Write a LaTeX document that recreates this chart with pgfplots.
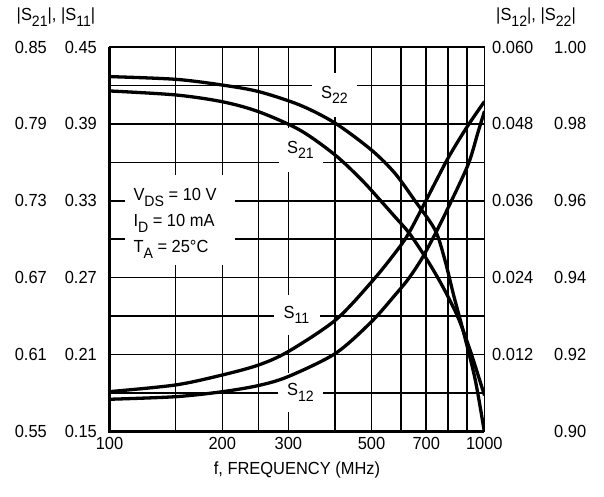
\documentclass[border=0pt]{standalone}
\usepackage{fontspec}
\setmainfont{Liberation Sans}[FakeStretch=0.94]
\usepackage{pgfplots}
\usepackage{pgfplotstable}
\pgfplotsset{compat=1.18}
\newcommand{\fs}{\fontsize{17.5}{21}\selectfont}
\newcommand{\sbs}[1]{\raisebox{-5.6pt}{\fontsize{15}{16}\selectfont #1}}

\pgfplotstableread{
f v
100 0.8157
150 0.8126
200 0.8073
250 0.7995
322 0.7852
400 0.7657
471 0.7462
527 0.7306
578 0.7174
627 0.7057
680 0.6907
731 0.6760
786 0.6596
852 0.6386
916 0.6136
1000 0.5785
}\tabSxxi

\pgfplotstableread{
f v
100 0.9923
150 0.9916
200 0.9901
250 0.9884
322 0.9849
400 0.9802
500 0.9732
577 0.9672
651 0.9602
739 0.9524
785 0.9446
830 0.9351
882 0.9255
946 0.9134
1000 0.9000
}\tabSxxii

\pgfplotstableread{
f v
100 0.1811
150 0.1863
200 0.1941
250 0.2019
300 0.2124
401 0.2370
500 0.2666
578 0.2893
627 0.3041
700 0.3306
800 0.3632
900 0.3878
1000 0.4073
}\tabSxi

\pgfplotstableread{
f v
100 0.00503
150 0.00543
200 0.00621
250 0.00718
300 0.00858
401 0.01220
500 0.01713
578 0.02130
627 0.02380
680 0.02690
739 0.03080
805 0.03520
906 0.04170
962 0.04670
1000 0.04990
}\tabSxii

\begin{document}
\begin{tikzpicture}
% grid, frame, x labels, S21 scale
\begin{axis}[scale only axis, width=374.8pt, height=384.5pt,
  xmode=log, xmin=100, xmax=1000, ymin=0.55, ymax=0.85,
  scaled y ticks=false,
  major tick length=0pt, minor tick length=0pt,
  tick label style={font=\fs},
  xtick={100,200,300,500,700,1000},
  xticklabels={100,200,300,500,700,1000},
  minor xtick={150,250,400,600,800,900},
  ytick={0.55,0.61,0.67,0.73,0.79,0.85},
  yticklabels={0.55,0.61,0.67,0.73,0.79,0.85},
  minor ytick={0.58,0.64,0.70,0.76,0.82},
  grid=both,
  major grid style={black, line width=1.6pt},
  minor grid style={black, line width=1.6pt},
  axis line style={black, line width=1.6pt},
  yticklabel style={anchor=east, inner sep=0pt, xshift=-62.5pt},
  xticklabel style={anchor=north, inner sep=0pt, yshift=-6pt},
]
\end{axis}
\draw[line width=2.8pt] (0pt,384.5pt) -- (0pt,0pt) -- (374.8pt,0pt);

% white gaps in grid + labels
\node[fill=white, inner sep=0pt, minimum width=110pt, minimum height=90pt] at (70.5pt,211.5pt) {};
\node[font=\fs, anchor=base west, inner sep=0pt] at (23.8pt,230.5pt) {V\sbs{DS} = 10 V};
\node[font=\fs, anchor=base west, inner sep=0pt] at (23.8pt,204.5pt) {I\sbs{D} = 10 mA};
\node[font=\fs, anchor=base west, inner sep=0pt] at (23.8pt,178.5pt) {T\sbs{A} = 25°C};
\node[font=\fs, fill=white, inner sep=0pt, minimum width=45pt, minimum height=44pt] at (225pt,336.5pt) {S\sbs{22}};
\node[font=\fs, fill=white, inner sep=0pt, minimum width=44pt, minimum height=44pt] at (191pt,281.5pt) {S\sbs{21}};
\node[font=\fs, fill=white, inner sep=0pt, minimum width=46pt, minimum height=40pt] at (187pt,116.5pt) {S\sbs{11}};
\node[font=\fs, fill=white, inner sep=0pt, minimum width=45pt, minimum height=39pt] at (191pt,39pt) {S\sbs{12}};

% axis titles
\node[font=\fs] at (-53.5pt,414.5pt) {|S\sbs{21}|, |S\sbs{11}|};
\node[font=\fs] at (426.5pt,414.5pt) {|S\sbs{12}|, |S\sbs{22}|};
\node[font=\fs] at (187.5pt,-38.5pt) {f, FREQUENCY (MHz)};

% S21
\begin{axis}[scale only axis, width=374.8pt, height=384.5pt,
  xmode=log, xmin=100, xmax=1000, ymin=0.55, ymax=0.85, hide axis]
\addplot[black, line width=3.3pt, line cap=round, smooth, tension=0.5] table[x=f, y=v] {\tabSxxi};
\end{axis}
% S11
\begin{axis}[scale only axis, width=374.8pt, height=384.5pt,
  xmode=log, xmin=100, xmax=1000, ymin=0.15, ymax=0.45,
  scaled y ticks=false,
  hide x axis, axis line style={draw=none},
  major tick length=0pt, minor tick length=0pt,
  tick label style={font=\fs},
  ytick={0.15,0.21,0.27,0.33,0.39,0.45},
  yticklabels={0.15,0.21,0.27,0.33,0.39,0.45},
  yticklabel style={anchor=east, inner sep=0pt, xshift=-12.5pt}]
\addplot[black, line width=3.3pt, line cap=round, smooth, tension=0.5] table[x=f, y=v] {\tabSxi};
\end{axis}
% S12
\begin{axis}[scale only axis, width=374.8pt, height=384.5pt,
  xmode=log, xmin=100, xmax=1000, ymin=0, ymax=0.06,
  scaled y ticks=false,
  hide x axis, axis line style={draw=none},
  major tick length=0pt, minor tick length=0pt,
  tick label style={font=\fs},
  ytick={0.012,0.024,0.036,0.048,0.060},
  yticklabels={0.012,0.024,0.036,0.048,0.060},
  yticklabel pos=right,
  yticklabel style={anchor=west, inner sep=0pt, xshift=7.7pt}]
\addplot[black, line width=3.3pt, line cap=round, smooth, tension=0.5] table[x=f, y=v] {\tabSxii};
\end{axis}
% S22
\begin{axis}[scale only axis, width=374.8pt, height=384.5pt,
  xmode=log, xmin=100, xmax=1000, ymin=0.90, ymax=1.00,
  scaled y ticks=false,
  hide x axis, axis line style={draw=none},
  major tick length=0pt, minor tick length=0pt,
  tick label style={font=\fs},
  ytick={0.90,0.92,0.94,0.96,0.98,1.00},
  yticklabels={0.90,0.92,0.94,0.96,0.98,1.00},
  yticklabel pos=right,
  yticklabel style={anchor=west, inner sep=0pt, xshift=69.7pt}]
\addplot[black, line width=3.3pt, line cap=round, smooth, tension=0.5] table[x=f, y=v] {\tabSxxii};
\end{axis}

\pgfresetboundingbox
\path[use as bounding box] (-109.5pt,-65.5pt) rectangle (494.5pt,431.5pt);
\end{tikzpicture}
\end{document}
